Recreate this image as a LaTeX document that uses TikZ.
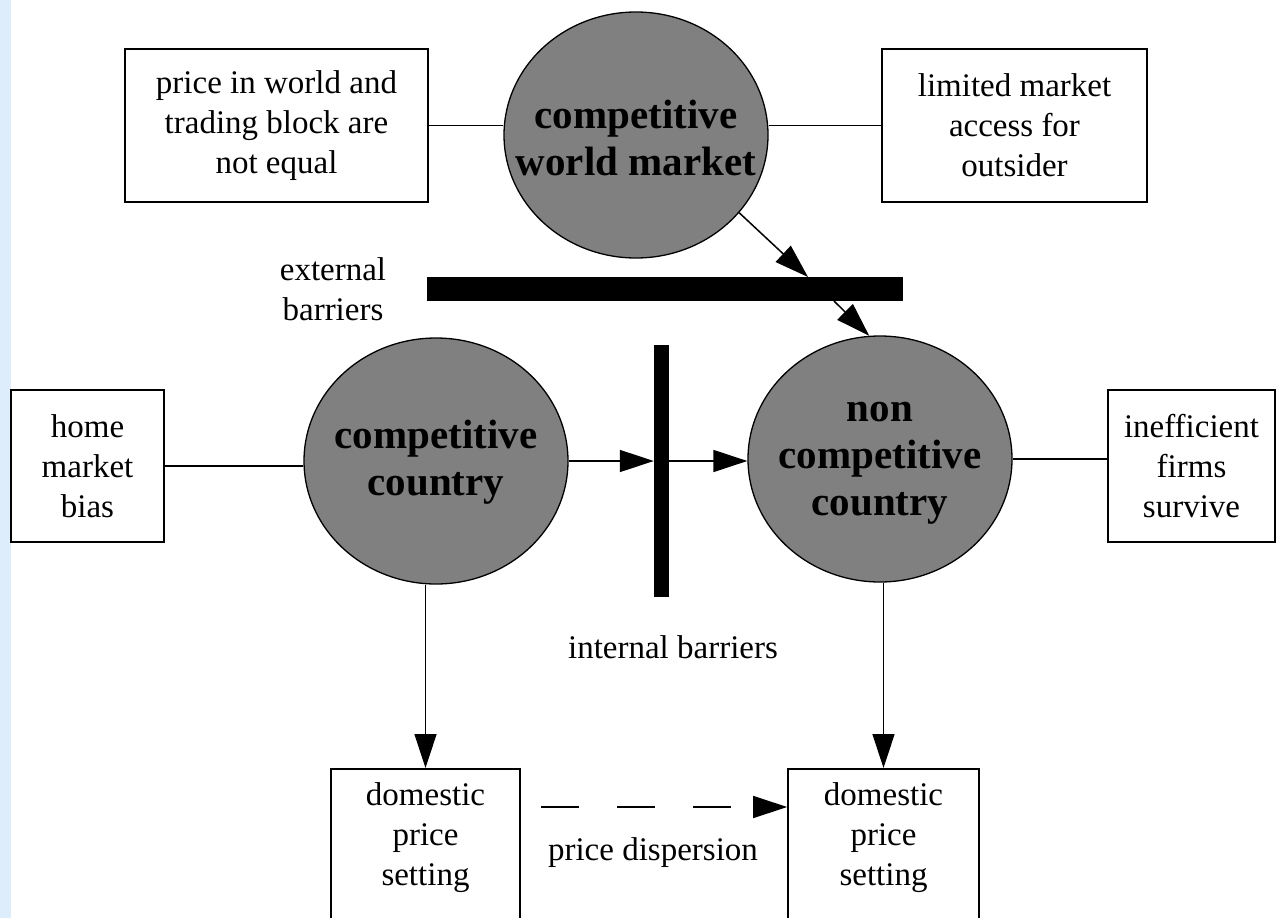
\documentclass[tikz,border=0pt]{standalone}
\usepackage{fontspec}
\setmainfont{Liberation Serif}
\usetikzlibrary{arrows.meta,shapes.geometric}
\definecolor{circfill}{RGB}{128,128,128}
\definecolor{stripblue}{RGB}{222,237,252}
\begin{document}
\begin{tikzpicture}[x=1pt,y=-1pt,
  box/.style={draw,line width=1.6pt,inner sep=0pt},
  circ/.style={ellipse,draw,line width=1.3pt,fill=circfill,inner sep=0pt},
  txt/.style={align=center,inner sep=0pt,font=\fontsize{33}{40}\selectfont},
  btxt/.style={align=center,inner sep=0pt,font=\fontsize{41}{47}\selectfont\bfseries},
  conn/.style={line width=1.5pt},
  arr/.style={line width=1.5pt,-{Triangle[length=34pt,width=22pt]}},
  barstyle/.style={fill=black,draw=none,inner sep=0pt},
]
\clip (0,0) rectangle (1280,918);
\fill[white] (0,0) rectangle (1280,918);
\fill[stripblue] (0,0) rectangle (11,918);

% top row
\node[box,minimum width=303pt,minimum height=153pt] (pw) at (276.5,125.5) {};
\node[txt] (pwt) at (pw) {price in world and\\trading block are\\not equal};
\node[circ,minimum width=264pt,minimum height=246pt] (world) at (636,135) {};
\node[btxt] (worldt) at (636,138) {competitive\\world market};
\node[box,minimum width=265pt,minimum height=153pt] (lim) at (1014.5,125.5) {};
\node[txt] (limt) at (lim) {limited market\\access for\\outsider};

\draw[conn] (pw.east) -- (pw.east -| world.west);
\draw[conn] (world.east |- lim.west) -- (lim.west);

% external barrier
\node[barstyle,minimum width=476pt,minimum height=24pt] (extbar) at (665,289) {};
\node[txt] (extl) at (333,289) {external\\barriers};

% middle row
\node[box,minimum width=153pt,minimum height=152pt] (home) at (87.5,466) {};
\node[txt] (homet) at (home) {home\\market\\bias};
\node[circ,minimum width=264pt,minimum height=246pt] (comp) at (436,461) {};
\node[btxt] (compt) at (436,462) {competitive\\country};
\node[barstyle,minimum width=15pt,minimum height=252pt] (intbar) at (661.5,471) {};
\node[circ,minimum width=264pt,minimum height=246pt] (nc) at (880,459) {};
\node[btxt] (nct) at (880,463) {non\\competitive\\country};
\node[box,minimum width=167pt,minimum height=152pt] (ineff) at (1191.5,466) {};
\node[txt] (innefft) at (ineff) {inefficient\\firms\\survive};

\draw[conn] (home.east) -- (home.east -| comp.west);
\draw[arr] (comp.east) -- (comp.east -| intbar.west);
\draw[arr] (comp.east -| intbar.east) -- (comp.east -| nc.west);
\draw[conn] (nc.east) -- (nc.east -| ineff.west);

% diagonal arrows through the external barrier
\coordinate (xin) at (808,277);
\coordinate (xout) at (834,301);
\draw[arr] (world.-37) -- (xin);
\draw[arr] (xout) -- (nc.95);

\node[txt] (intl) at (673,647) {internal barriers};

% bottom row
\node[box,minimum width=189pt,minimum height=170pt,anchor=north] (domA) at (425.5,768) {};
\node[txt] (domAt) at (425.5,838) {domestic\\price\\setting};
\node[box,minimum width=191pt,minimum height=170pt,anchor=north] (domB) at (883.5,768) {};
\node[txt] (domBt) at (883.5,838) {domestic\\price\\setting};

\draw[arr] (domA.north |- comp.south) -- (domA.north);
\draw[arr] (domB.north |- nc.south) -- (domB.north);

\coordinate (ds) at (541,807);
\draw[arr,dash pattern=on 38pt off 38pt] (ds) -- (ds -| domB.west);
\node[txt] (pdl) at (653,853) {price dispersion};
\end{tikzpicture}
\end{document}
